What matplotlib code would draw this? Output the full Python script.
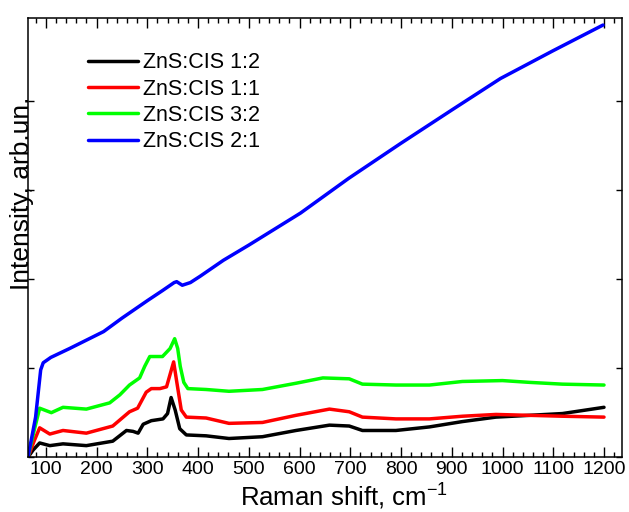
import numpy as np
import matplotlib
matplotlib.use("Agg")
import matplotlib.pyplot as plt
from matplotlib.ticker import MultipleLocator

plt.rcParams['font.family'] = ['Liberation Sans', 'DejaVu Sans']
plt.rcParams['mathtext.default'] = 'regular'

# Raman spectra (x in cm-1, intensity in arb. units)
x_12 = [65, 75, 88, 108, 134, 180, 232, 259, 272, 282, 292, 308, 331, 340, 347, 355, 364, 377,
        416, 461, 527, 593, 659, 698, 724, 790, 856, 921, 987, 1053, 1118, 1200]
y_12 = [0.0, 0.08, 0.16, 0.13, 0.15, 0.13, 0.18, 0.30, 0.29, 0.27, 0.37, 0.41, 0.43, 0.49, 0.67, 0.53,
        0.32, 0.25, 0.24, 0.21, 0.23, 0.30, 0.36, 0.35, 0.30, 0.30, 0.34, 0.40, 0.45, 0.47, 0.49, 0.56]

x_11 = [65, 77, 88, 108, 134, 180, 232, 265, 281, 298, 308, 325, 338, 346, 352, 358, 367, 377,
        416, 461, 527, 593, 659, 698, 724, 790, 856, 921, 987, 1053, 1118, 1200]
y_11 = [0.0, 0.18, 0.33, 0.26, 0.30, 0.27, 0.35, 0.51, 0.55, 0.73, 0.77, 0.77, 0.79, 0.95, 1.07, 0.85,
        0.53, 0.45, 0.44, 0.38, 0.39, 0.47, 0.54, 0.51, 0.45, 0.43, 0.43, 0.46, 0.48, 0.47, 0.46, 0.45]

x_32 = [65, 78, 88, 111, 134, 180, 226, 246, 265, 285, 295, 305, 330, 345, 354, 360, 365, 372,
        380, 416, 461, 527, 593, 646, 698, 724, 790, 856, 921, 1000, 1053, 1118, 1200]
y_32 = [0.0, 0.32, 0.55, 0.50, 0.56, 0.54, 0.61, 0.70, 0.81, 0.89, 1.02, 1.13, 1.13, 1.22, 1.33, 1.22,
        1.02, 0.84, 0.77, 0.76, 0.74, 0.76, 0.83, 0.89, 0.88, 0.82, 0.81, 0.81, 0.85, 0.86, 0.84, 0.82, 0.81]

x_21 = [65, 80, 90, 95, 110, 147, 214, 250, 301, 330, 353, 358, 369, 385, 404, 450, 500, 602,
        697, 799, 901, 996, 1099, 1198]
y_21 = [0.0, 0.45, 0.98, 1.06, 1.12, 1.22, 1.41, 1.56, 1.76, 1.87, 1.96, 1.97, 1.93, 1.96, 2.03, 2.21,
        2.38, 2.74, 3.13, 3.52, 3.90, 4.25, 4.56, 4.85]

labels = ['ZnS:CIS 1:2', 'ZnS:CIS 1:1', 'ZnS:CIS 3:2', 'ZnS:CIS 2:1']
colors = ['#000000', '#ff0000', '#00ff00', '#0000ff']

fig = plt.figure(figsize=(6.29, 5.12), dpi=100)
ax = fig.add_axes([0.0445, 0.107, 0.944, 0.858])

for xs, ys, lab, col in zip([x_12, x_11, x_32, x_21], [y_12, y_11, y_32, y_21], labels, colors):
    ax.plot(xs, ys, color=col, lw=2.5, label=lab, solid_capstyle='round')

ax.set_xlim(65, 1235)
ax.set_ylim(0, 4.93)
ax.xaxis.set_major_locator(MultipleLocator(100))
ax.xaxis.set_minor_locator(MultipleLocator(20))
ax.yaxis.set_major_locator(MultipleLocator(1))
ax.set_yticklabels([])
ax.tick_params(axis='x', which='major', direction='in', length=7, width=1, top=True, labelsize=14, pad=3)
ax.tick_params(axis='x', which='minor', direction='in', length=3.5, width=1, top=True)
ax.tick_params(axis='y', which='major', direction='in', length=4, width=1, right=True)
for s in ax.spines.values():
    s.set_linewidth(1.1)

ax.text(0.532, -0.057, 'Raman shift, cm$^{-1}$', transform=ax.transAxes, ha='center', va='top',
        fontsize=18.5)
ax.text(-0.01, 0.6, 'Intensity, arb.un.', transform=ax.transAxes, ha='center', va='center',
        rotation=90, fontsize=19)

ax.legend(loc='upper left', bbox_to_anchor=(0.14, 0.898), bbox_transform=fig.transFigure,
          frameon=False, fontsize=15.5, borderpad=0, borderaxespad=0, labelspacing=0.25,
          handlelength=2.3, handletextpad=0.25)

fig.savefig('out.png', dpi=100)
